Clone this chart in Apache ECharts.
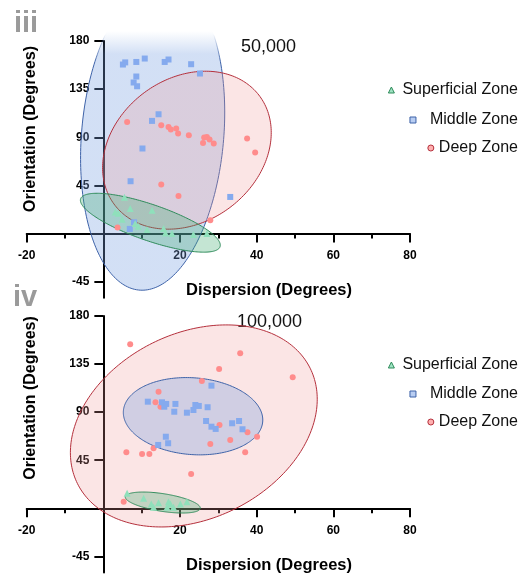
<!DOCTYPE html>
<html><head><meta charset="utf-8">
<script src="https://cdn.jsdelivr.net/npm/echarts@6/dist/echarts.min.js"></script>
<style>html,body{margin:0;padding:0;background:#fff}#c{width:531px;height:577px}</style>
</head><body><div id="c"></div><script>
const FONT = '"Liberation Sans", Arial, sans-serif';
const seriesNames = ['Superficial Zone', 'Middle Zone', 'Deep Zone'];
const panelLabels = ['iii', 'iv'];
const loadLabels = ['50,000', '100,000'];
const xAxisTitle = 'Dispersion (Degrees)';
const yAxisTitle = 'Orientation (Degrees)';
const yTickValues = [-45, 45, 90, 135, 180];
const xMin = -20, xMax = 80, xStep = 20, yMin = -60, yMax = 180;

// panel iii (50,000)
const topSuperficial = [[3.1,20.2],[3.9,19.0],[5.5,33.9],[7.0,23.4],[12.7,21.8],[4.9,13.4],[8.3,9.3],[9.1,6.8],[11.4,3.7],[15.7,4.7],[16.2,0.6],[17.9,0],[23.5,-1],[27.0,0]];
const topMiddle = [[5.1,158],[5.7,160],[8.6,160.4],[10.8,163.6],[16.0,160.4],[17.0,162.7],[22.9,158.3],[25.2,149.6],[8.6,146.8],[7.9,141.2],[8.8,137.7],[14.4,111.5],[12.7,105.3],[10.2,79.5],[7.1,48.9],[33.1,34.2],[8.0,10.5],[6.9,4.3]];
const topDeep = [[6.2,104.3],[15.1,101.3],[17.0,99.7],[17.6,97.2],[19.0,98.2],[19.5,93.5],[22.3,91.9],[26.3,89.8],[27.0,90.3],[27.7,87.9],[26.0,84.7],[28.8,84.1],[37.5,88.8],[39.6,75.7],[15.1,45.8],[19.6,35.2],[27.9,12.4],[3.7,5.6]];
// ellipses: [centerX, centerY, u_x, u_y, v_x, v_y] (conjugate semi-diameters)
const topSuperficialEllipse = [12.26, 10.1, 18.25, -21.0, 0, 17.8];
const topMiddleEllipse = [12.86, 91.9, 18.6, 0, -2.76, -144.9];
const topDeepEllipse = [21.8, 77.9, 22.0, 16.4, 0, 72];

// panel iv (100,000)
const bottomSuperficial = [[6.2,14.0],[10.5,9.4],[12.5,4.0],[14.4,5.2],[17.0,6.2],[17.5,4.0],[16.6,0.9],[20.1,4.0],[21.8,6.2],[13.1,0.9],[18.3,0.9]];
const bottomMiddle = [[28.2,114.8],[11.6,99.8],[15.3,99.2],[16.4,97.7],[15.9,95.1],[18.8,97.7],[18.5,90.4],[21.8,89.5],[24.0,96.7],[24.9,95.8],[23.5,92.0],[27.2,94.6],[26.8,81.7],[28.2,76.4],[29.3,74.3],[33.6,79.6],[35.4,81.7],[36.3,74.0],[16.3,67.0],[14.3,59.3],[16.9,60.9]];
const bottomDeep = [[7.0,153.6],[35.7,145.1],[30.2,130.4],[25.7,119.2],[14.4,109.2],[13.6,99.3],[14.9,95.1],[30.3,78.0],[37.6,71.2],[40.1,67.0],[33.1,64.0],[49.4,122.7],[27.9,60.2],[37.0,52.4],[6.0,52.4],[10.1,50.8],[12.0,50.8],[13.1,56.2],[22.9,32.1],[5.3,6.2]];
const bottomSuperficialEllipse = [15.5, 5.4, 9.78, -5.15, 0, 8.37];
const bottomMiddleEllipse = [23.4, 86.2, 18.19, -3.5, 0, 36.0];
const bottomDeepEllipse = [23.6, 77.1, 32.2, 25.0, 0, 91.2];

const C = {
  green: {pt: '#8fe0bb', fill: 'rgba(60,170,110,0.30)', stroke: '#2e8b5a', legFill: '#9fe3c3'},
  blue:  {pt: '#85aaee', fill: 'rgba(120,160,225,0.33)', stroke: '#3d62a8', legFill: '#b8cdf2'},
  red:   {pt: '#ff8c8c', fill: 'rgba(240,150,150,0.25)', stroke: '#b5303c', legFill: '#ffb0b0'}
};

const GRIDS = [
  {left: 26.7, top: 41, width: 383.3, height: 256.7},
  {left: 26.7, top: 316, width: 383.3, height: 256.4}
];

const chart = echarts.init(document.getElementById('c'), null, {renderer: 'canvas'});

// place axis lines through the origin: offset from grid edge to the zero position
function xAx(i) {
  const g = GRIDS[i];
  const off = -g.height * (0 - yMin) / (yMax - yMin);
  return {type: 'value', gridIndex: i, min: xMin, max: xMax, interval: xStep, position: 'bottom', offset: off,
    axisLine: {show: true, onZero: false, lineStyle: {color: '#000', width: 2}},
    axisTick: {show: true, length: 9, lineStyle: {color: '#000', width: 2}},
    minorTick: {show: true, splitNumber: 2, length: 5, lineStyle: {color: '#000', width: 2}},
    splitLine: {show: false}, minorSplitLine: {show: false},
    axisLabel: {margin: 16, fontSize: 12, fontWeight: 'bold', color: '#000', fontFamily: FONT,
      formatter: v => v === 0 ? '' : String(v)}};
}
function yAx(i) {
  const g = GRIDS[i];
  const off = -g.width * (0 - xMin) / (xMax - xMin);
  return {type: 'value', gridIndex: i, min: yMin, max: yMax, position: 'left', offset: off,
    axisLine: {show: true, onZero: false, lineStyle: {color: '#000', width: 2}},
    axisTick: {show: true, length: 9, customValues: yTickValues, lineStyle: {color: '#000', width: 2}},
    splitLine: {show: false},
    axisLabel: {margin: 14, fontSize: 12, fontWeight: 'bold', color: '#000', fontFamily: FONT, customValues: yTickValues}};
}

function ellipseSeries(gi, params, fill, stroke, clipTopY) {
  return {type: 'custom', xAxisIndex: gi, yAxisIndex: gi, clip: false, silent: true,
    data: [params],
    renderItem: (p, api) => {
      const v = [0,1,2,3,4,5].map(k => api.value(k));
      const N = 240, pts = [], inside = [];
      for (let k = 0; k < N; k++) {
        const t = 2 * Math.PI * k / N;
        const x = v[0] + v[2] * Math.cos(t) + v[4] * Math.sin(t);
        let y = v[1] + v[3] * Math.cos(t) + v[5] * Math.sin(t);
        let ok = true;
        if (clipTopY != null && y > clipTopY) { y = clipTopY; ok = false; }
        pts.push(api.coord([x, y])); inside.push(ok);
      }
      const children = [{type: 'polygon', shape: {points: pts}, style: {fill: fill, stroke: null}}];
      if (inside.every(b => b)) {
        children.push({type: 'polygon', shape: {points: pts}, style: {fill: null, stroke: stroke, lineWidth: 1}});
      } else {
        const start = inside.indexOf(false);
        let run = [];
        for (let j = 1; j <= N; j++) {
          const idx = (start + j) % N;
          if (inside[idx]) run.push(pts[idx]);
          else { if (run.length > 1) children.push({type: 'polyline', shape: {points: run}, style: {fill: null, stroke: stroke, lineWidth: 1}}); run = []; }
        }
        if (run.length > 1) children.push({type: 'polyline', shape: {points: run}, style: {fill: null, stroke: stroke, lineWidth: 1}});
      }
      return {type: 'group', children};
    }};
}
function pointSeries(gi, name, data, symbol, color, size) {
  return {type: 'scatter', name, xAxisIndex: gi, yAxisIndex: gi, data, symbol, symbolSize: size,
    itemStyle: {color, opacity: 1}, silent: true, clip: false};
}
function legendAt(name, icon, fill, border, top, padLeft) {
  return {data: [{name, icon, itemStyle: {color: fill, borderColor: border, borderWidth: 1}}],
    right: 13, top, orient: 'vertical', padding: 0, itemWidth: 6, itemHeight: 6, selectedMode: false,
    textStyle: {fontSize: 16, color: '#111', fontFamily: FONT, padding: [0, 0, 0, padLeft]}};
}

const blueTopFill = new echarts.graphic.LinearGradient(0, 31, 0, 54, [
  {offset: 0, color: 'rgba(120,160,225,0)'}, {offset: 1, color: 'rgba(120,160,225,0.33)'}], true);
const blueTopStroke = new echarts.graphic.LinearGradient(0, 34, 0, 62, [
  {offset: 0, color: 'rgba(61,98,168,0)'}, {offset: 1, color: 'rgba(61,98,168,1)'}], true);

const option = {
  animation: false,
  backgroundColor: '#fff',
  grid: GRIDS.map(g => Object.assign({containLabel: false, outerBoundsMode: 'none'}, g)),
  xAxis: [xAx(0), xAx(1)],
  yAxis: [yAx(0), yAx(1)],
  legend: [
    legendAt(seriesNames[0], 'triangle', C.green.legFill, C.green.stroke, 82, 3),
    legendAt(seriesNames[1], 'rect', C.blue.legFill, C.blue.stroke, 112, 9),
    legendAt(seriesNames[2], 'circle', C.red.legFill, C.red.stroke, 140, 0),
    legendAt(seriesNames[0], 'triangle', C.green.legFill, C.green.stroke, 357, 3),
    legendAt(seriesNames[1], 'rect', C.blue.legFill, C.blue.stroke, 386, 9),
    legendAt(seriesNames[2], 'circle', C.red.legFill, C.red.stroke, 414, 0)
  ],
  graphic: [
    {type: 'text', left: 14, top: 9, style: {text: panelLabels[0], fontSize: 29, fontWeight: 'bold', fill: '#9a9a9a', fontFamily: FONT}},
    {type: 'text', left: 13, top: 283, style: {text: panelLabels[1], fontSize: 29, fontWeight: 'bold', fill: '#9a9a9a', fontFamily: FONT}},
    {type: 'text', x: 241, y: 47, style: {text: loadLabels[0], fontSize: 18, fill: '#111', fontFamily: FONT, verticalAlign: 'middle'}},
    {type: 'text', x: 237, y: 322, style: {text: loadLabels[1], fontSize: 18, fill: '#111', fontFamily: FONT, verticalAlign: 'middle'}},
    {type: 'text', x: 31, y: 129, rotation: Math.PI / 2, style: {text: yAxisTitle, fontSize: 16.3, fontWeight: 'bold', fill: '#000', fontFamily: FONT, align: 'center', verticalAlign: 'middle'}},
    {type: 'text', x: 31, y: 398, rotation: Math.PI / 2, style: {text: yAxisTitle, fontSize: 16, fontWeight: 'bold', fill: '#000', fontFamily: FONT, align: 'center', verticalAlign: 'middle'}},
    {type: 'text', x: 269, y: 290, style: {text: xAxisTitle, fontSize: 16.5, fontWeight: 'bold', fill: '#000', fontFamily: FONT, align: 'center', verticalAlign: 'middle'}},
    {type: 'text', x: 269, y: 565, style: {text: xAxisTitle, fontSize: 16.5, fontWeight: 'bold', fill: '#000', fontFamily: FONT, align: 'center', verticalAlign: 'middle'}}
  ],
  series: [
    ellipseSeries(0, topMiddleEllipse, blueTopFill, blueTopStroke, 189),
    pointSeries(0, seriesNames[1], topMiddle, 'rect', C.blue.pt, 6),
    ellipseSeries(0, topDeepEllipse, C.red.fill, C.red.stroke, null),
    pointSeries(0, seriesNames[2], topDeep, 'circle', C.red.pt, 6),
    ellipseSeries(0, topSuperficialEllipse, C.green.fill, C.green.stroke, null),
    pointSeries(0, seriesNames[0], topSuperficial, 'triangle', C.green.pt, 7),

    ellipseSeries(1, bottomDeepEllipse, C.red.fill, C.red.stroke, null),
    pointSeries(1, seriesNames[2], bottomDeep, 'circle', C.red.pt, 6),
    ellipseSeries(1, bottomMiddleEllipse, C.blue.fill, C.blue.stroke, null),
    pointSeries(1, seriesNames[1], bottomMiddle, 'rect', C.blue.pt, 6),
    ellipseSeries(1, bottomSuperficialEllipse, C.green.fill, C.green.stroke, null),
    pointSeries(1, seriesNames[0], bottomSuperficial, 'triangle', C.green.pt, 7)
  ]
};
chart.setOption(option);
</script></body></html>
